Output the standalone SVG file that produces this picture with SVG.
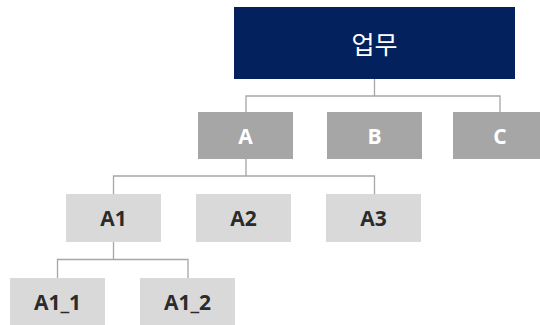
<svg xmlns="http://www.w3.org/2000/svg" width="540" height="325" viewBox="0 0 540 325">
<style>
.root{fill:#03215C}
.l1{fill:#A6A6A6}
.l2{fill:#D9D9D9}
.t{font-family:"Open Sans","Noto Sans CJK KR",sans-serif;font-size:21px;text-anchor:middle;dominant-baseline:central}
.tr{fill:#FFFFFF;font-size:25px;font-weight:400}
.t1{fill:#FFFFFF;font-weight:700}
.t2{fill:#2B2B2B;font-weight:700}
.c{fill:none;stroke:#A6A6A6;stroke-width:1.3}
</style>
<rect width="540" height="325" fill="#FFFFFF"/>
<g id="connectors">
<path class="c" d="M374.5 79V96M246 112V96H500V112"/>
<path class="c" d="M246 159V176M113.5 194V176H374.5V194"/>
<path class="c" d="M113.5 242V259.5M57.5 278V259.5H188V278"/>
</g>
<g id="root"><rect class="root" x="234" y="7" width="281" height="72"/><text class="t tr" x="374.5" y="44">업무</text></g>
<g id="A"><rect class="l1" x="198" y="112" width="95" height="47"/><text class="t t1" x="245.5" y="136">A</text></g>
<g id="B"><rect class="l1" x="327" y="112" width="95" height="47"/><text class="t t1" x="374.5" y="136">B</text></g>
<g id="C"><rect class="l1" x="453" y="112" width="95" height="47"/><text class="t t1" x="500" y="136">C</text></g>
<g id="A1"><rect class="l2" x="66" y="194" width="95" height="48"/><text class="t t2" x="113.5" y="218">A1</text></g>
<g id="A2"><rect class="l2" x="196" y="194" width="95" height="48"/><text class="t t2" x="243.5" y="218">A2</text></g>
<g id="A3"><rect class="l2" x="326" y="194" width="95" height="48"/><text class="t t2" x="373.5" y="218">A3</text></g>
<g id="A1_1"><rect class="l2" x="10" y="278" width="95" height="48"/><text class="t t2" x="57.5" y="302">A1_1</text></g>
<g id="A1_2"><rect class="l2" x="140" y="278" width="95" height="48"/><text class="t t2" x="187.5" y="302">A1_2</text></g>
</svg>
